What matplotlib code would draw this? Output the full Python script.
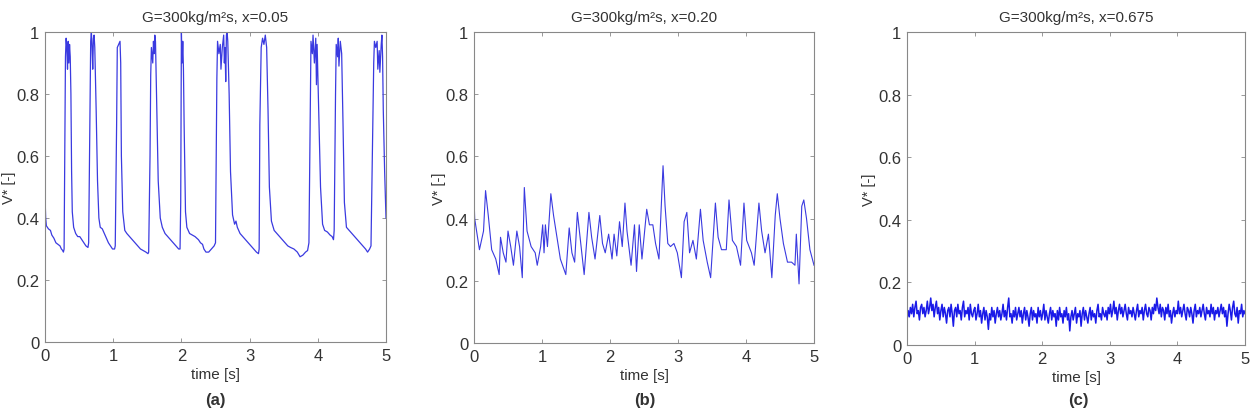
import numpy as np
import matplotlib
matplotlib.use('Agg')
import matplotlib.pyplot as plt

# void fraction signals V* at G=300 kg/m2s, three qualities
titles = ['G=300kg/m\u00b2s, x=0.05', 'G=300kg/m\u00b2s, x=0.20', 'G=300kg/m\u00b2s, x=0.675']
panel_tags = ['(a)', '(b)', '(c)']

# (a) x=0.05 : slug-like periodic spikes
t_a = [0.00, 0.01, 0.02, 0.05, 0.08, 0.10, 0.13, 0.16, 0.19, 0.22, 0.24, 0.26, 0.27, 0.28, 0.29,
       0.30, 0.31, 0.32, 0.33, 0.34, 0.35, 0.36, 0.37, 0.38, 0.39, 0.40, 0.42, 0.45, 0.48, 0.51,
       0.54, 0.57, 0.60, 0.63, 0.64, 0.66, 0.67, 0.68, 0.69, 0.70, 0.71, 0.72, 0.73, 0.75, 0.77,
       0.79, 0.81, 0.84, 0.87, 0.90, 0.93, 0.96, 0.99, 1.02, 1.03, 1.05, 1.06, 1.08, 1.10, 1.11,
       1.12, 1.14, 1.17, 1.20, 1.24, 1.28, 1.32, 1.36, 1.40, 1.44, 1.48, 1.51, 1.52, 1.54, 1.55,
       1.56, 1.58, 1.59, 1.60, 1.61, 1.62, 1.64, 1.66, 1.69, 1.72, 1.76, 1.80, 1.84, 1.88, 1.92,
       1.96, 1.98, 1.99, 2.00, 2.01, 2.02, 2.03, 2.04, 2.06, 2.08, 2.12, 2.16, 2.20, 2.25, 2.28,
       2.31, 2.33, 2.36, 2.40, 2.44, 2.48, 2.50, 2.52, 2.53, 2.55, 2.57, 2.58, 2.60, 2.62, 2.63,
       2.64, 2.65, 2.66, 2.67, 2.68, 2.70, 2.72, 2.75, 2.78, 2.80, 2.82, 2.86, 2.90, 2.94, 2.98,
       3.02, 3.06, 3.10, 3.13, 3.14, 3.15, 3.17, 3.19, 3.21, 3.23, 3.25, 3.27, 3.29, 3.32, 3.36,
       3.40, 3.44, 3.48, 3.52, 3.56, 3.60, 3.65, 3.70, 3.74, 3.78, 3.82, 3.85, 3.87, 3.89, 3.90,
       3.92, 3.93, 3.95, 3.97, 3.98, 3.99, 4.00, 4.02, 4.04, 4.07, 4.10, 4.14, 4.18, 4.21, 4.23,
       4.24, 4.26, 4.27, 4.29, 4.30, 4.31, 4.33, 4.35, 4.37, 4.39, 4.42, 4.46, 4.50, 4.54, 4.58,
       4.62, 4.66, 4.70, 4.73, 4.76, 4.78, 4.80, 4.82, 4.83, 4.85, 4.87, 4.88, 4.90, 4.91, 4.93,
       4.94, 4.95, 4.96, 4.98, 5.00]
v_a = [0.47, 0.40, 0.375, 0.365, 0.36, 0.345, 0.335, 0.32, 0.315, 0.31, 0.30, 0.295, 0.29, 0.30, 0.60,
       0.92, 0.98, 0.95, 0.88, 0.97, 0.90, 0.96, 0.92, 0.80, 0.55, 0.42, 0.37, 0.35, 0.34, 0.34,
       0.33, 0.32, 0.31, 0.305, 0.32, 0.75, 0.97, 1.00, 0.95, 0.88, 0.98, 0.99, 0.95, 0.75, 0.52,
       0.40, 0.37, 0.365, 0.35, 0.335, 0.32, 0.31, 0.30, 0.30, 0.31, 0.70, 0.95, 0.96, 0.97, 0.90,
       0.60, 0.42, 0.36, 0.35, 0.34, 0.33, 0.32, 0.31, 0.30, 0.295, 0.29, 0.285, 0.29, 0.60, 0.86,
       0.95, 0.90, 0.97, 0.93, 0.99, 0.97, 0.75, 0.52, 0.40, 0.37, 0.35, 0.34, 0.33, 0.32, 0.31,
       0.30, 0.30, 0.45, 1.00, 0.90, 0.97, 0.88, 0.70, 0.42, 0.37, 0.35, 0.345, 0.34, 0.33, 0.32,
       0.315, 0.30, 0.29, 0.29, 0.30, 0.31, 0.32, 0.85, 0.97, 0.93, 0.96, 0.88, 0.95, 0.99, 0.90,
       0.95, 0.84, 0.99, 1.00, 0.97, 0.80, 0.55, 0.41, 0.38, 0.39, 0.37, 0.35, 0.34, 0.33, 0.32,
       0.31, 0.30, 0.29, 0.285, 0.30, 0.70, 0.95, 0.98, 0.96, 0.99, 0.95, 0.75, 0.50, 0.39, 0.36,
       0.35, 0.34, 0.33, 0.32, 0.31, 0.305, 0.30, 0.29, 0.275, 0.28, 0.29, 0.295, 0.32, 0.75, 0.97,
       0.93, 0.99, 0.90, 0.98, 0.83, 0.96, 0.87, 0.70, 0.50, 0.38, 0.36, 0.355, 0.345, 0.34, 0.33,
       0.36, 0.80, 0.96, 0.92, 0.98, 0.89, 0.97, 0.93, 0.70, 0.45, 0.37, 0.36, 0.35, 0.34, 0.33,
       0.32, 0.31, 0.30, 0.29, 0.30, 0.31, 0.60, 0.90, 0.97, 0.95, 0.97, 0.88, 0.94, 0.87, 0.96,
       0.99, 0.92, 0.75, 0.55, 0.40]

# (b) x=0.20 : irregular fluctuations
t_b = [0.00, 0.01, 0.08, 0.11, 0.14, 0.17, 0.21, 0.26, 0.32, 0.37, 0.39, 0.43, 0.47, 0.50, 0.54,
       0.58, 0.63, 0.67, 0.71, 0.74, 0.78, 0.84, 0.90, 0.93, 0.98, 1.01, 1.03, 1.05, 1.08, 1.13,
       1.17, 1.22, 1.27, 1.35, 1.40, 1.44, 1.48, 1.52, 1.56, 1.62, 1.69, 1.73, 1.78, 1.85, 1.89,
       1.93, 1.98, 2.03, 2.06, 2.10, 2.14, 2.18, 2.22, 2.25, 2.31, 2.36, 2.39, 2.43, 2.47, 2.54,
       2.58, 2.63, 2.67, 2.72, 2.78, 2.81, 2.85, 2.89, 2.94, 2.99, 3.05, 3.09, 3.13, 3.17, 3.22,
       3.27, 3.33, 3.37, 3.43, 3.48, 3.55, 3.59, 3.64, 3.71, 3.75, 3.80, 3.86, 3.92, 3.97, 4.01,
       4.08, 4.12, 4.19, 4.23, 4.28, 4.33, 4.38, 4.43, 4.46, 4.50, 4.55, 4.61, 4.67, 4.72, 4.74,
       4.78, 4.82, 4.85, 4.89, 4.94, 5.00]
v_b = [0.47, 0.40, 0.30, 0.33, 0.36, 0.49, 0.41, 0.30, 0.27, 0.22, 0.34, 0.29, 0.26, 0.36, 0.31,
       0.25, 0.36, 0.31, 0.21, 0.50, 0.36, 0.31, 0.29, 0.25, 0.31, 0.38, 0.29, 0.38, 0.31, 0.48,
       0.41, 0.34, 0.27, 0.22, 0.37, 0.29, 0.26, 0.42, 0.34, 0.22, 0.42, 0.34, 0.27, 0.41, 0.32,
       0.29, 0.35, 0.27, 0.35, 0.28, 0.39, 0.31, 0.45, 0.36, 0.25, 0.38, 0.23, 0.38, 0.27, 0.43,
       0.38, 0.38, 0.32, 0.27, 0.57, 0.44, 0.32, 0.31, 0.32, 0.29, 0.21, 0.39, 0.42, 0.29, 0.33,
       0.27, 0.43, 0.33, 0.26, 0.21, 0.45, 0.34, 0.30, 0.30, 0.46, 0.33, 0.31, 0.25, 0.45, 0.33,
       0.29, 0.25, 0.45, 0.36, 0.29, 0.35, 0.21, 0.41, 0.48, 0.40, 0.32, 0.26, 0.26, 0.25, 0.35,
       0.19, 0.44, 0.46, 0.40, 0.30, 0.25]

# (c) x=0.675 : low void signal with small noise, 300 samples over 5 s
v_c = [.08, .11, .09, .12, .10, .13, .09, .12, .14, .10, .11, .08, .12, .13, .10, .12, .09, .11, .14, .10,
       .12, .15, .11, .13, .09, .12, .14, .10, .12, .08, .11, .13, .09, .12, .10, .07, .11, .12, .09, .13,
       .10, .06, .11, .12, .09, .13, .10, .11, .08, .12, .14, .09, .11, .10, .12, .08, .13, .10, .09, .11,
       .12, .08, .10, .13, .09, .11, .07, .10, .12, .08, .11, .09, .05, .10, .08, .12, .09, .11, .07, .10,
       .12, .09, .11, .08, .10, .13, .09, .11, .08, .12, .15, .09, .10, .07, .11, .09, .12, .08, .10, .12,
       .09, .11, .07, .10, .12, .08, .11, .09, .06, .10, .12, .08, .11, .09, .10, .07, .12, .09, .11, .08,
       .10, .13, .08, .11, .09, .07, .10, .12, .08, .11, .09, .10, .06, .11, .08, .12, .09, .10, .07, .11,
       .09, .12, .08, .10, .045, .09, .11, .08, .10, .12, .07, .10, .09, .11, .06, .10, .12, .08, .11, .09,
       .07, .10, .12, .08, .11, .09, .10, .07, .11, .13, .09, .10, .08, .12, .10, .09, .11, .08, .12, .10,
       .13, .09, .11, .14, .10, .12, .08, .11, .13, .10, .12, .09, .11, .13, .10, .08, .12, .10, .11, .09,
       .12, .10, .08, .11, .13, .09, .11, .10, .12, .08, .11, .13, .10, .09, .12, .11, .08, .12, .10, .13,
       .11, .15, .12, .10, .13, .09, .12, .11, .08, .12, .10, .13, .09, .11, .07, .10, .12, .09, .11, .10,
       .14, .10, .12, .09, .11, .13, .10, .08, .12, .11, .09, .12, .10, .07, .11, .13, .09, .11, .10, .12,
       .09, .11, .13, .10, .08, .12, .10, .11, .09, .13, .10, .12, .08, .11, .10, .12, .09, .11, .13, .10,
       .12, .09, .11, .06, .10, .13, .11, .08, .12, .14, .10, .09, .12, .07, .11, .10, .13, .09, .11, .10]
t_c = np.linspace(0, 5, len(v_c))

plt.rcParams['font.family'] = ['Liberation Sans', 'DejaVu Sans']

fig = plt.figure(figsize=(12.5, 4.1), dpi=100)
# axes boxes in pixels (left, top, right, bottom)
boxes = [(45, 33, 386, 343), (474, 33, 814, 344), (907, 33, 1245, 346)]
ylab_x = [3, 433, 863]
tag_x = [215, 645, 1078]

series = [(t_a, v_a, '#3a3ae0', 0.9), (t_b, v_b, '#3a3ae0', 0.8), (t_c, v_c, '#1a1ae8', 1.1)]

txt = '#333333'
for i in range(3):
	l, t, r, b = boxes[i]
	ax = fig.add_axes([l/1250, (410-b)/410, (r-l)/1250, (b-t)/410])
	tt, vv, col, lw = series[i]
	ax.plot(tt, vv, color=col, lw=lw)
	ax.set_xlim(0, 5)
	ax.set_ylim(0, 1)
	ax.set_xticks([0, 1, 2, 3, 4, 5])
	ax.set_yticks([0, 0.2, 0.4, 0.6, 0.8, 1])
	ax.set_yticklabels(['0', '0.2', '0.4', '0.6', '0.8', '1'])
	ax.tick_params(direction='in', top=True, right=True, length=3, width=0.6,
	               colors='#888888', labelcolor=txt, labelsize=12, pad=4)
	for s in ax.spines.values():
		s.set_color('#888888')
		s.set_linewidth(0.8)
	ax.set_title(titles[i], fontsize=11, color=txt, pad=8)
	ax.set_xlabel('time [s]', fontsize=11, color=txt, labelpad=3)
	fig.text((ylab_x[i]+6)/1250, (410-(t+b)/2)/410, 'V* [-]', rotation=90,
	         ha='center', va='center', fontsize=10.5, color=txt)
	fig.text(tag_x[i]/1250, 9/410, panel_tags[i], ha='center', va='center',
	         fontsize=12, fontweight='bold', color=txt)

fig.savefig('out.png', dpi=100)
